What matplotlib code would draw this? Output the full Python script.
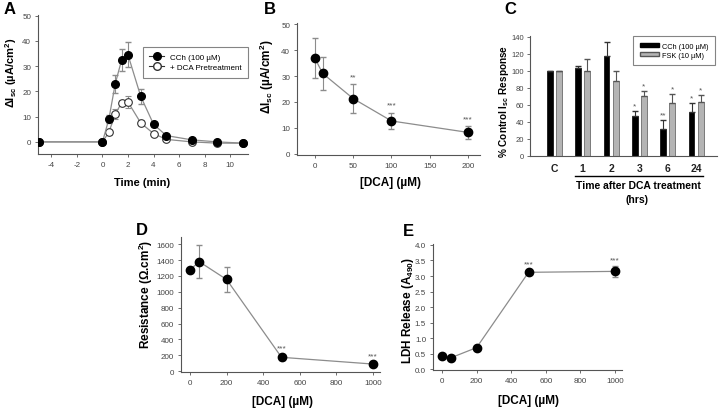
import numpy as np
import matplotlib
matplotlib.use("Agg")
import matplotlib.pyplot as plt
from matplotlib.patches import Patch
from matplotlib.lines import Line2D

plt.rcParams['font.family'] = ['Liberation Sans', 'DejaVu Sans']
plt.rcParams['mathtext.fontset'] = 'custom'
plt.rcParams['mathtext.rm'] = 'Liberation Sans:bold'
plt.rcParams['mathtext.it'] = 'Liberation Sans:bold'
plt.rcParams['mathtext.bf'] = 'Liberation Sans:bold'
plt.rcParams['mathtext.default'] = 'rm'
plt.rcParams['axes.unicode_minus'] = False

# panel A
a_time = [-5, 0, 0.5, 1, 1.5, 2, 3, 4, 5, 7, 9, 11]
a_cch = [0, 0, 9, 23, 32.5, 34.5, 18, 7, 2.5, 0.8, 0, -0.5]
a_cch_err = [0, 0, 1.5, 3.5, 4.5, 5, 3, 1, 0.5, 0.5, 0.3, 0.3]
a_dca = [0, 0, 3.8, 11, 15.5, 15.8, 7.5, 3.3, 1, 0, -0.5, -0.5]
a_dca_err = [0, 0, 1, 2, 1, 2.5, 1, 0.5, 0.3, 0.3, 0.3, 0.3]

# panel B
b_dca = [0, 10, 50, 100, 200]
b_isc = [36.8, 31, 21.3, 12.7, 8.3]
b_err = [7.7, 6.3, 5.5, 3.2, 2.5]
b_stars = ['', '', '**', '***', '***']

# panel C
c_groups = ['C', '1', '2', '3', '6', '24']
c_cch = [100, 103, 117, 47, 32, 52]
c_cch_err = [0, 3, 17, 6, 10, 10]
c_fsk = [100, 100, 88, 70, 62, 63]
c_fsk_err = [0, 14, 12, 6, 11, 9]
c_cch_stars = ['', '', '', '*', '**', '*']
c_fsk_stars = ['', '', '', '*', '*', '*']

# panel D
d_dca = [0, 50, 200, 500, 1000]
d_res = [1275, 1380, 1155, 175, 90]
d_err = [30, 205, 155, 35, 20]
d_stars = ['', '', '', '***', '***']

# panel E
e_dca = [0, 50, 200, 500, 1000]
e_ldh = [0.42, 0.37, 0.7, 3.12, 3.15]
e_err = [0.02, 0.02, 0.03, 0.05, 0.17]
e_stars = ['', '', '', '***', '***']

W, H = 720, 410
fig = plt.figure(figsize=(7.2, 4.1), dpi=100)

LINE = '#8c8c8c'
SPINE = '#555555'
TICK = '#444444'


def make_ax(l, t, r, b):
    ax = fig.add_axes([l / W, 1 - b / H, (r - l) / W, (b - t) / H])
    for s in ['top', 'right']:
        ax.spines[s].set_visible(False)
    for s in ['left', 'bottom']:
        ax.spines[s].set_color(SPINE)
        ax.spines[s].set_linewidth(0.8)
    ax.tick_params(labelsize=5.8, colors=SPINE, labelcolor=TICK, length=2.5, width=0.6, pad=2.5)
    return ax


def ftext(x, y, s, **kw):
    fig.text(x / W, 1 - y / H, s, ha='center', va='center', **kw)


def stars(ax, xs, ys, errs, labels, dy):
    for x, y, e, s in zip(xs, ys, errs, labels):
        if s:
            ax.text(x, y + e + dy, s, ha='center', va='bottom', fontsize=6, color='#555555')


# ---- A ----
ax = make_ax(38, 16, 248, 155)
ax.errorbar(a_time, a_dca, yerr=a_dca_err, color=LINE, lw=0.9, ecolor=LINE, elinewidth=0.8,
            capsize=2, marker='o', ms=5.5, mfc='white', mec='#333333', mew=0.8, zorder=2)
ax.errorbar(a_time, a_cch, yerr=a_cch_err, color=LINE, lw=0.9, ecolor=LINE, elinewidth=0.8,
            capsize=2, marker='o', ms=5.5, mfc='black', mec='black', zorder=3)
ax.set_xlim(-5.05, 11.4)
ax.set_ylim(-4.8, 50.3)
ax.set_xticks([-4, -2, 0, 2, 4, 6, 8, 10])
ax.set_yticks([0, 10, 20, 30, 40, 50])
handles = [Line2D([], [], color='#333333', lw=0.8, marker='o', ms=5.5, mfc='black', mec='black'),
           Line2D([], [], color='#333333', lw=0.8, marker='o', ms=5.5, mfc='white', mec='#333333')]
leg = ax.legend(handles, ['CCh (100 µM)', '+ DCA Pretreatment'], fontsize=5.8, fancybox=False,
                loc='upper left', bbox_to_anchor=((143 - 38) / 210, (155 - 48) / 139),
                borderpad=0.8, handlelength=1.8, labelspacing=0.3, borderaxespad=0)
leg.get_frame().set_edgecolor('#666666')
leg.get_frame().set_linewidth(0.8)
ftext(11, 73, 'ΔI$_{sc}$ (µA/cm$^2$)', rotation=90, fontsize=8, fontweight='bold')
ftext(142, 183, 'Time (min)', fontsize=8, fontweight='bold')
ftext(10, 10, 'A', fontsize=12, fontweight='bold')

# ---- B ----
ax = make_ax(297, 24, 480, 156)
ax.errorbar(b_dca, b_isc, yerr=b_err, color=LINE, lw=0.9, ecolor=LINE, elinewidth=0.8,
            capsize=2, marker='o', ms=6, mfc='black', mec='black')
stars(ax, b_dca, b_isc, b_err, b_stars, 1.5)
ax.set_xlim(-23.5, 215.7)
ax.set_ylim(-0.4, 50.4)
ax.set_xticks([0, 50, 100, 150, 200])
ax.set_yticks([0, 10, 20, 30, 40, 50])
ftext(267, 77, 'ΔI$_{sc}$ (µA/cm$^2$)', rotation=90, fontsize=8.5, fontweight='bold')
ftext(391, 183, '[DCA] (µM)', fontsize=8.5, fontweight='bold')
ftext(270, 10, 'B', fontsize=12, fontweight='bold')

# ---- C ----
ax = make_ax(530, 37, 717, 157)
ax.tick_params(axis='y', labelsize=5.5, pad=2)
pos = np.arange(len(c_groups))
bw = 0.21
off = 0.16
ax.bar(pos - off, c_cch, bw, color='black', edgecolor='black', lw=0.5,
       yerr=[np.zeros(len(c_cch)), c_cch_err], ecolor='#333333', error_kw=dict(elinewidth=0.8, capsize=2))
ax.bar(pos + off, c_fsk, bw, color='#b4b4b4', edgecolor='#555555', lw=0.5,
       yerr=[np.zeros(len(c_fsk)), c_fsk_err], ecolor='#555555', error_kw=dict(elinewidth=0.8, capsize=2))
stars(ax, pos - off, c_cch, c_cch_err, c_cch_stars, 2)
stars(ax, pos + off, c_fsk, c_fsk_err, c_fsk_stars, 2)
ax.set_xlim(-0.86, 5.74)
ax.set_ylim(0, 141)
ax.set_yticks(range(0, 141, 20))
ax.set_xticks(pos)
ax.set_xticklabels(c_groups, fontsize=7.5, fontweight='bold', color='#222222')
ax.tick_params(axis='x', length=0, pad=5)
leg = ax.legend([Patch(fc='black', ec='black'), Patch(fc='#b4b4b4', ec='#555555')],
                ['CCh (100 µM)', 'FSK (10 µM)'], fontsize=5.3, fancybox=False,
                loc='upper left', bbox_to_anchor=((633 - 530) / 187, 1.0),
                borderpad=0.9, handlelength=2.6, handleheight=0.5, handletextpad=0.4,
                labelspacing=0.3, borderaxespad=0)
leg.get_frame().set_edgecolor('#666666')
leg.get_frame().set_linewidth(0.8)
fig.add_artist(Line2D([575 / W, 703 / W], [1 - 177 / H, 1 - 177 / H], color='black', lw=1))
ftext(638, 186, 'Time after DCA treatment', fontsize=7.5, fontweight='bold')
ftext(637, 200, '(hrs)', fontsize=7.5, fontweight='bold')
ftext(504, 101, '% Control I$_{sc}$ Response', rotation=90, fontsize=7.2, fontweight='bold')
ftext(510, 10, 'C', fontsize=12, fontweight='bold')

# ---- D ----
ax = make_ax(181, 238, 380, 373)
ax.errorbar(d_dca, d_res, yerr=d_err, color=LINE, lw=0.9, ecolor=LINE, elinewidth=0.8,
            capsize=2, marker='o', ms=6, mfc='black', mec='black')
stars(ax, d_dca, d_res, d_err, d_stars, 40)
ax.set_xlim(-49, 1038)
ax.set_ylim(-10, 1690)
ax.set_xticks([0, 200, 400, 600, 800, 1000])
ax.set_yticks(range(0, 1601, 200))
ftext(146, 294, 'Resistance (Ω.cm$^2$)', rotation=90, fontsize=8.5, fontweight='bold')
ftext(282, 402, '[DCA] (µM)', fontsize=8.5, fontweight='bold')
ftext(142, 231, 'D', fontsize=12, fontweight='bold')

# ---- E ----
ax = make_ax(433, 245, 622, 371)
ax.errorbar(e_dca, e_ldh, yerr=e_err, color=LINE, lw=0.9, ecolor=LINE, elinewidth=0.8,
            capsize=2, marker='o', ms=6, mfc='black', mec='black')
stars(ax, e_dca, e_ldh, e_err, e_stars, 0.1)
ax.set_xlim(-52, 1040)
ax.set_ylim(-0.02, 4.03)
ax.set_xticks([0, 200, 400, 600, 800, 1000])
ax.set_yticks(np.arange(0, 4.01, 0.5))
ax.yaxis.set_major_formatter(matplotlib.ticker.FormatStrFormatter('%.1f'))
ftext(408, 310, 'LDH Release (A$_{490}$)', rotation=90, fontsize=8.5, fontweight='bold')
ftext(528, 401, '[DCA] (µM)', fontsize=8.5, fontweight='bold')
ftext(408, 232, 'E', fontsize=12, fontweight='bold')

fig.savefig('out.png', dpi=100)
